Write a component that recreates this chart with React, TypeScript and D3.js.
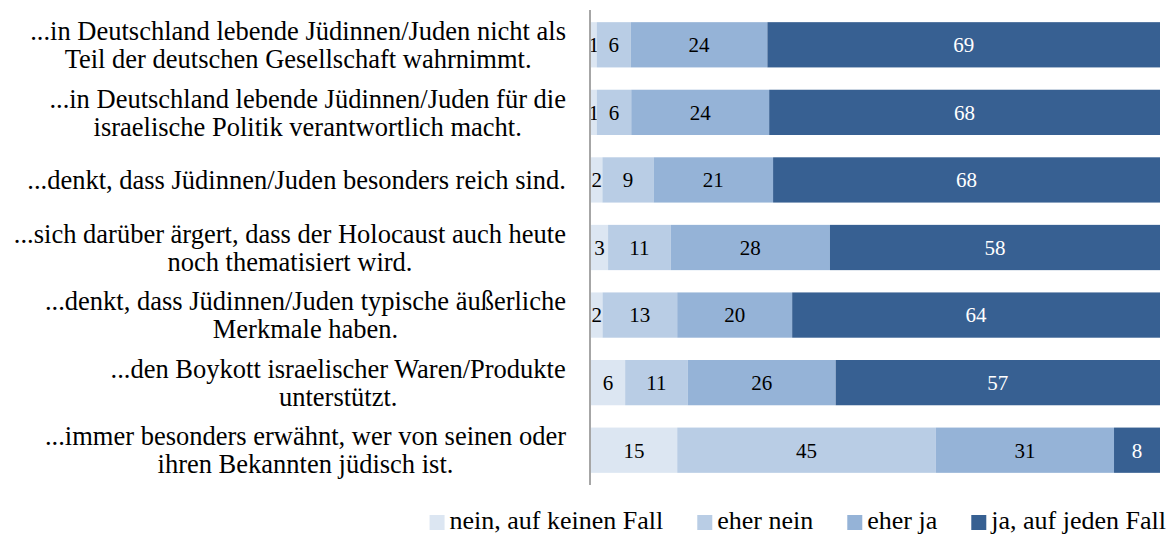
import React, { useMemo } from "react";
import * as d3 from "d3";

const categories: string[][] = [
  ["...in Deutschland lebende Jüdinnen/Juden nicht als", "Teil der deutschen Gesellschaft wahrnimmt."],
  ["...in Deutschland lebende Jüdinnen/Juden für die", "israelische Politik verantwortlich macht."],
  ["...denkt, dass Jüdinnen/Juden besonders reich sind."],
  ["...sich darüber ärgert, dass der Holocaust auch heute", "noch thematisiert wird."],
  ["...denkt, dass Jüdinnen/Juden typische äußerliche", "Merkmale haben."],
  ["...den Boykott israelischer Waren/Produkte", "unterstützt."],
  ["...immer besonders erwähnt, wer von seinen oder", "ihren Bekannten jüdisch ist."],
];

const seriesNames = ["nein, auf keinen Fall", "eher nein", "eher ja", "ja, auf jeden Fall"];
const neinKeinenFall = [1, 1, 2, 3, 2, 6, 15];
const eherNein = [6, 6, 9, 11, 13, 11, 45];
const eherJa = [24, 24, 21, 28, 20, 26, 31];
const jaJedenFall = [69, 68, 68, 58, 64, 57, 8];

const colors = ["#dce6f2", "#b9cde5", "#95b3d7", "#376092"];
const textColors = ["#000", "#000", "#000", "#fff"];

const FONT = '"Liberation Serif", "Times New Roman", Times, serif';
const LABEL_FS = 26.5;
const LEGEND_FS = 26;
const VALUE_FS = 21;

function measure(text: string, fs: number): number {
  const c = document.createElement("canvas").getContext("2d");
  if (!c) return text.length * fs * 0.45;
  c.font = `${fs}px ${FONT}`;
  return c.measureText(text).width;
}

export default function App() {
  const W = 1170, H = 536;
  const x0 = 591, x1 = 1160;
  const top = 10, bottom = 485;

  const rows = categories.map((_, i) => ({
    idx: i,
    s0: neinKeinenFall[i],
    s1: eherNein[i],
    s2: eherJa[i],
    s3: jaJedenFall[i],
  }));

  const stack = d3.stack<any>().keys(["s0", "s1", "s2", "s3"]).offset(d3.stackOffsetExpand);
  const series = stack(rows);

  const x = d3.scaleLinear().domain([0, 1]).range([x0, x1]);
  const y = d3
    .scaleBand<number>()
    .domain(d3.range(categories.length))
    .range([top, bottom])
    .paddingInner(0.33)
    .paddingOuter(0.18);

  const labelRight = 566;
  const lineH = 28;

  const widths = useMemo(
    () => categories.map((lines) => Math.max(...lines.map((l) => measure(l, LABEL_FS)))),
    []
  );
  const legendW = useMemo(() => seriesNames.map((n) => measure(n, LEGEND_FS)), []);

  const sq = 15, gapSq = 5, gapItem = 34;
  const totalLegend =
    legendW.reduce((a, w) => a + sq + gapSq + w, 0) + gapItem * (seriesNames.length - 1);
  let lx = 1166 - totalLegend;
  const legendItems = seriesNames.map((n, i) => {
    const item = { n, i, x: lx };
    lx += sq + gapSq + legendW[i] + gapItem;
    return item;
  });

  return (
    <svg
      width={W}
      height={H}
      style={{ position: "absolute", left: 0, top: 0, background: "#fff", fontFamily: FONT }}
    >
      {series.map((s, si) => (
        <g key={si}>
          {s.map((d, ri) => {
            const bx = x(d[0]);
            const bw = x(d[1]) - x(d[0]);
            const by = y(ri)!;
            const bh = y.bandwidth();
            const val = (rows[ri] as any)[`s${si}`];
            return (
              <g key={ri}>
                <rect x={bx} y={by} width={bw} height={bh} fill={colors[si]} />
                <text
                  x={bx + bw / 2}
                  y={by + bh / 2}
                  dy="0.35em"
                  textAnchor="middle"
                  fontSize={VALUE_FS}
                  fill={textColors[si]}
                  style={{ fontFamily: FONT }}
                >
                  {val}
                </text>
              </g>
            );
          })}
        </g>
      ))}
      <line x1={590} x2={590} y1={top} y2={bottom} stroke="#a6a6a6" strokeWidth={2} />
      {categories.map((lines, i) => {
        const cy = y(i)! + y.bandwidth() / 2;
        const cx = labelRight - widths[i] / 2;
        const startY = cy - ((lines.length - 1) * lineH) / 2;
        return (
          <text key={i} textAnchor="middle" fontSize={LABEL_FS} fill="#000" style={{ fontFamily: FONT }}>
            {lines.map((l, li) => (
              <tspan key={li} x={cx} y={startY + li * lineH} dy="0.35em">
                {l}
              </tspan>
            ))}
          </text>
        );
      })}
      {legendItems.map((it) => (
        <g key={it.i}>
          <rect x={it.x} y={515} width={sq} height={sq} fill={colors[it.i]} />
          <text
            x={it.x + sq + gapSq}
            y={529}
            fontSize={LEGEND_FS}
            fill="#000"
            style={{ fontFamily: FONT }}
          >
            {it.n}
          </text>
        </g>
      ))}
    </svg>
  );
}
